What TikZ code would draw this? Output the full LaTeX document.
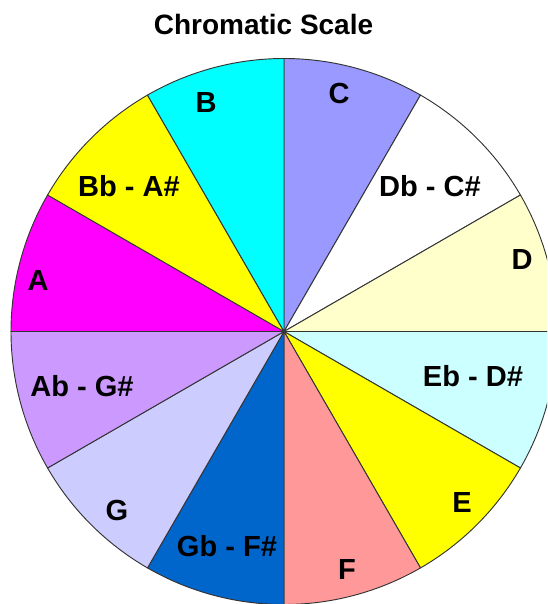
\documentclass[tikz,border=0pt]{standalone}
\usepackage{fontspec}
\setmainfont{Liberation Sans}
\definecolor{cC}{HTML}{9999FF}
\definecolor{cDb}{HTML}{FFFFFF}
\definecolor{cD}{HTML}{FFFFCC}
\definecolor{cEb}{HTML}{CCFFFF}
\definecolor{cE}{HTML}{FFFF00}
\definecolor{cF}{HTML}{FF9999}
\definecolor{cGb}{HTML}{0066CC}
\definecolor{cG}{HTML}{CCCCFF}
\definecolor{cAb}{HTML}{CC99FF}
\definecolor{cA}{HTML}{FF00FF}
\definecolor{cBb}{HTML}{FFFF00}
\definecolor{cB}{HTML}{00FFFF}
\definecolor{edge}{HTML}{333333}
\tikzset{
  slicelabel/.style={anchor=base, inner sep=0pt, font=\fontsize{21.8}{26}\selectfont\bfseries, text=black},
  titlelabel/.style={anchor=base, inner sep=0pt, font=\fontsize{21}{25}\selectfont\bfseries, text=black},
  sliceedge/.style={draw=edge, line width=0.7pt, line join=round}
}
\begin{document}
\begin{tikzpicture}[x=0.75pt,y=0.75pt]
\useasboundingbox (0,0) rectangle (547,604);
\clip (0,0) rectangle (547,604);
\coordinate (ctr) at (284,272.5);
\foreach \col [count=\k from 0] in {cC,cDb,cD,cEb,cE,cF,cGb,cG,cAb,cA,cBb,cB}{
  \pgfmathsetmacro{\sa}{90-30*\k}
  \pgfmathsetmacro{\ea}{60-30*\k}
  \filldraw[fill=\col, sliceedge] (ctr) -- ++(\sa:273) arc[start angle=\sa, end angle=\ea, radius=273] -- cycle;
}
\node[titlelabel] (title) at (263.5,569) {Chromatic Scale};
\node[slicelabel] (lC)  at (339,500.5) {C};
\node[slicelabel] (lDb) at (430,407) {Db - C\#};
\node[slicelabel] (lD)  at (522,334) {D};
\node[slicelabel] (lEb) at (473,217) {Eb - D\#};
\node[slicelabel] (lE)  at (462,91) {E};
\node[slicelabel] (lF)  at (347,24) {F};
\node[slicelabel] (lGb) at (227,47) {Gb - F\#};
\node[slicelabel] (lG)  at (117,83.5) {G};
\node[slicelabel] (lAb) at (82,207) {Ab - G\#};
\node[slicelabel] (lA)  at (38,313) {A};
\node[slicelabel] (lBb) at (129,407) {Bb - A\#};
\node[slicelabel] (lB)  at (206,491) {B};
\end{tikzpicture}
\end{document}
